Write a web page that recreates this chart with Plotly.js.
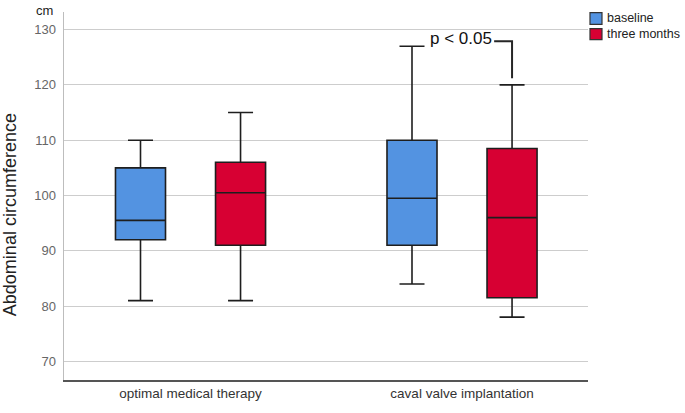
<!DOCTYPE html>
<html>
<head>
<meta charset="utf-8">
<script src="https://cdn.plot.ly/plotly-3.0.1.min.js"></script>
<style>html,body{margin:0;padding:0;background:#fff;}#chart{width:685px;height:413px;}</style>
</head>
<body>
<div id="chart"></div>
<script>
// ---- data ----
var categories = ["optimal medical therapy", "caval valve implantation"];
var seriesNames = ["baseline", "three months"];
var seriesColors = ["#5393E1", "#D70033"];

var baselineLower  = [81, 84];
var baselineQ1     = [92, 91];
var baselineMedian = [95.5, 99.5];
var baselineQ3     = [105, 110];
var baselineUpper  = [110, 127];

var threeLower  = [81, 78];
var threeQ1     = [91, 81.5];
var threeMedian = [100.5, 96];
var threeQ3     = [106, 108.5];
var threeUpper  = [115, 120];

var yTicks = [70, 80, 90, 100, 110, 120, 130];
var pText = "p < 0.05";
var unitText = "cm";
var yTitle = "Abdominal circumference";

// ---- layout constants ----
var FONT = "Liberation Sans, Arial, sans-serif";
var BOXGAP = 0.263, GROUPGAP = 0.5;
var boxOffset = 0.25 * (1 - BOXGAP);

function boxTrace(i, lower, q1, med, q3, upper) {
  return {
    type: "box",
    name: seriesNames[i],
    x: categories,
    lowerfence: lower,
    q1: q1,
    median: med,
    q3: q3,
    upperfence: upper,
    fillcolor: seriesColors[i],
    line: {color: "#1e1e1e", width: 1.6},
    whiskerwidth: 0.5,
    boxpoints: false,
    showlegend: false,
    hoverinfo: "y"
  };
}

var data = [
  boxTrace(0, baselineLower, baselineQ1, baselineMedian, baselineQ3, baselineUpper),
  boxTrace(1, threeLower, threeQ1, threeMedian, threeQ3, threeUpper)
];

// bracket for significance, at second category, ending on the "three months" box centre
var redCenter = 1 + boxOffset;
var shapes = [
  {type: "path", xref: "x", yref: "y",
   path: "M" + (redCenter - 0.066) + "," + 127.9 + " L" + redCenter + "," + 127.9 + " L" + redCenter + "," + 121.2,
   line: {color: "#262626", width: 2}}
];

// custom legend
var legY = [[0.9984, 0.9666], [0.955, 0.925]];
var legTextY = [0.9829, 0.9395];
var annotations = [];
for (var i = 0; i < seriesNames.length; i++) {
  shapes.push({type: "rect", xref: "paper", yref: "paper",
    x0: 1.0038, x1: 1.0267, y0: legY[i][1], y1: legY[i][0],
    fillcolor: seriesColors[i], line: {color: "#333", width: 1.2}});
  annotations.push({xref: "paper", yref: "paper", x: 1.0324, y: legTextY[i],
    xanchor: "left", yanchor: "middle", showarrow: false, text: seriesNames[i],
    font: {family: FONT, size: 12.5, color: "#222"}});
}
annotations.push({xref: "x", yref: "y", x: 1 - 0.005, y: 128.3, xanchor: "center", yanchor: "middle",
  showarrow: false, text: pText, font: {family: FONT, size: 17, color: "#111"}});
annotations.push({xref: "paper", yref: "paper", x: -0.0172, y: 1.0046, xanchor: "right", yanchor: "middle",
  showarrow: false, text: unitText, font: {family: FONT, size: 13, color: "#222"}});
annotations.push({xref: "paper", yref: "paper", x: -0.103, y: 0.448, xanchor: "center", yanchor: "middle",
  textangle: -90, showarrow: false, text: yTitle, font: {family: FONT, size: 18, color: "#222"}});

var layout = {
  width: 685, height: 413,
  margin: {l: 64, r: 97, t: 12, b: 33, pad: 0},
  paper_bgcolor: "#fff", plot_bgcolor: "#fff",
  font: {family: FONT, color: "#333"},
  boxmode: "group", boxgap: BOXGAP, boxgroupgap: GROUPGAP,
  showlegend: false,
  xaxis: {
    type: "category",
    range: [-0.466, 1.464],
    showgrid: false, zeroline: false,
    showline: true, linecolor: "#555", linewidth: 1.5,
    ticks: "", tickfont: {family: FONT, size: 13.5, color: "#333"},
    fixedrange: true
  },
  yaxis: {
    range: [66.64, 133.18],
    tickvals: yTicks,
    ticktext: yTicks.map(String),
    showgrid: true, gridcolor: "#cdcdcd", gridwidth: 1,
    zeroline: false,
    showline: true, linecolor: "#bdbdbd", linewidth: 1.5,
    ticks: "", ticklabelstandoff: 4,
    tickfont: {family: FONT, size: 13, color: "#666"},
    fixedrange: true
  },
  shapes: shapes,
  annotations: annotations
};

Plotly.newPlot("chart", data, layout, {displayModeBar: false, staticPlot: true});
</script>
</body>
</html>
